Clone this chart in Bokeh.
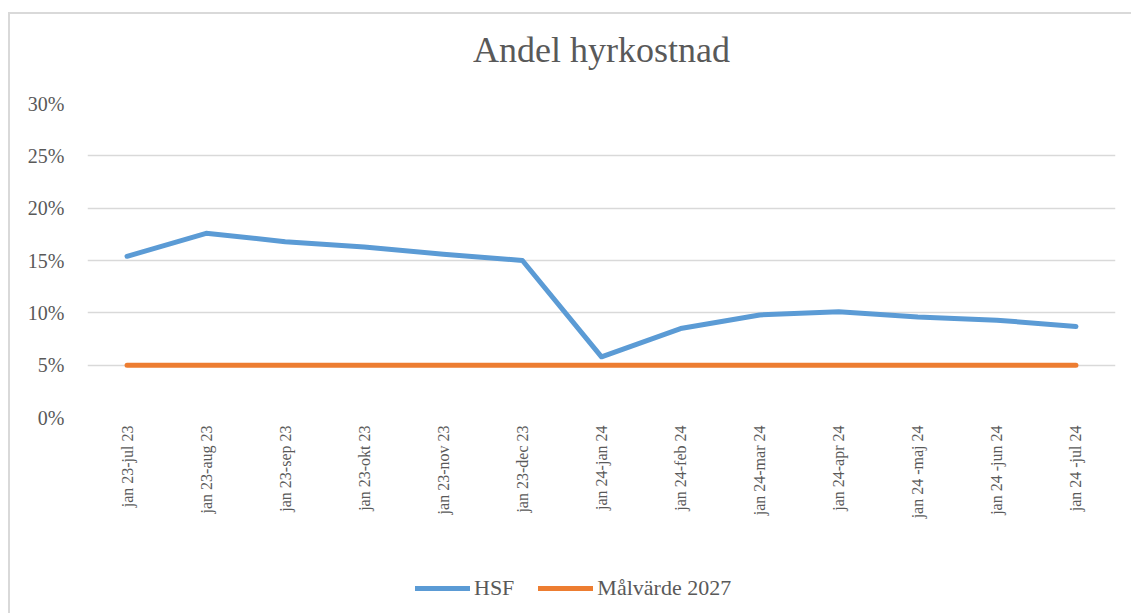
from bokeh.plotting import figure
from bokeh.models import Range1d, FactorRange, NumeralTickFormatter, Legend, LegendItem, ColumnDataSource, Title
from bokeh.layouts import column
from bokeh.embed import file_html
from bokeh.resources import INLINE
import math

categories = ["jan 23-jul 23", "jan 23-aug 23", "jan 23-sep 23", "jan 23-okt 23",
              "jan 23-nov 23", "jan 23-dec 23", "jan 24-jan 24", "jan 24-feb 24",
              "jan 24-mar 24", "jan 24-apr 24", "jan 24 -maj 24", "jan 24 -jun 24",
              "jan 24 -jul 24"]
hsf = [0.154, 0.176, 0.168, 0.163, 0.156, 0.150, 0.058, 0.085, 0.098, 0.101, 0.096, 0.093, 0.087]
target = [0.05] * len(categories)
y_ticks = [0, 0.05, 0.10, 0.15, 0.20, 0.25, 0.30]
series_names = ["HSF", "Målvärde 2027"]

FONT = "Liberation Serif"
GREY = "#595959"
COLORS = ["#5B9BD5", "#ED7D31"]

src = ColumnDataSource(dict(x=categories, hsf=hsf, target=target))

p = figure(x_range=FactorRange(*categories, range_padding=0), y_range=Range1d(0, 0.30),
           width=1123, height=553, output_backend="svg", toolbar_location=None,
           min_border_left=77, min_border_right=18, min_border_top=89, min_border_bottom=150)

p.title.text = "Andel hyrkostnad"
p.title.align = "center"
p.title.text_font = FONT
p.title.text_font_size = "36px"
p.title.text_font_style = "normal"
p.title.text_color = GREY
p.title.offset = 0
p.title.standoff = 0
# gap between title and plot area
p.add_layout(Title(text=" ", text_font_size="1px", standoff=31), "above")

p.line("x", "hsf", source=src, line_color=COLORS[0], line_width=5, line_cap="round", line_join="round")
p.line("x", "target", source=src, line_color=COLORS[1], line_width=5, line_cap="round")

p.outline_line_color = None
p.xgrid.grid_line_color = None
p.ygrid.grid_line_color = "#d9d9d9"
p.ygrid.grid_line_width = 1.5
p.yaxis.ticker = y_ticks
p.yaxis.formatter = NumeralTickFormatter(format="0%")
for ax in (p.xaxis[0], p.yaxis[0]):
    ax.axis_line_color = None
    ax.major_tick_line_color = None
    ax.minor_tick_line_color = None
    ax.major_label_text_font = FONT
    ax.major_label_text_color = GREY
p.yaxis.major_label_text_font_size = "20px"
p.yaxis.major_label_standoff = 17
p.xaxis.major_label_text_font_size = "16px"
p.xaxis.major_label_orientation = math.pi / 2
p.xaxis.major_label_standoff = 2

# legend strip (series drawn out of view; only their legend glyphs show)
lg = figure(x_range=FactorRange(*categories, range_padding=0), y_range=Range1d(1, 2),
            width=1123, height=48, output_backend="svg", toolbar_location=None,
            x_axis_type=None, y_axis_type=None, min_border=0, outline_line_color=None)
lg.grid.visible = False
r1 = lg.line("x", "hsf", source=src, line_color=COLORS[0], line_width=5, line_cap="round")
r2 = lg.line("x", "target", source=src, line_color=COLORS[1], line_width=5, line_cap="round")
legend = Legend(items=[LegendItem(label=series_names[0], renderers=[r1]),
                       LegendItem(label=series_names[1], renderers=[r2])],
                orientation="horizontal", location=(328, 14),
                label_text_font=FONT, label_text_font_size="22px", label_text_color=GREY,
                glyph_width=55, glyph_height=22, label_standoff=4, spacing=24,
                border_line_color=None, background_fill_alpha=0, padding=0, margin=0)
lg.add_layout(legend, "center")

layout = column(p, lg, spacing=0, margin=(12, 0, 0, 8),
                styles={"border-left": "2px solid #d9d9d9", "border-top": "2px solid #d9d9d9"})
open("out.html", "w").write(file_html(layout, INLINE))
